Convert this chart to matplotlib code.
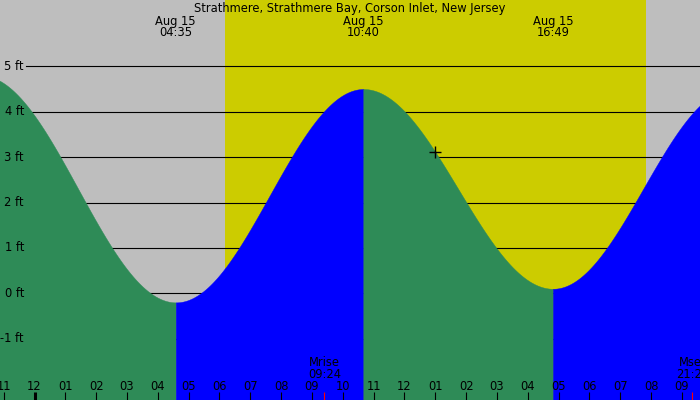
import numpy as np
import matplotlib
matplotlib.use("Agg")
import matplotlib.pyplot as plt
import matplotlib.transforms as mtransforms

# ---- data ----
title = "Strathmere, Strathmere Bay, Corson Inlet, New Jersey"
# tide extremes: hours relative to Aug 15 00:00, heights in ft
tide_times = [-1.75, 4 + 35/60, 10 + 40/60, 16 + 49/60, 22 + 40/60]
tide_heights = [4.8, -0.2, 4.5, 0.1, 4.5]
event_dates = ["Aug 15", "Aug 15", "Aug 15"]
event_labels = ["04:35", "10:40", "16:49"]
event_times = [4 + 35/60, 10 + 40/60, 16 + 49/60]
sunrise = 6 + 10/60
sunset = 19 + 50/60
moon_times = [9 + 24/60, 21 + 20/60]
moon_names = ["Mrise", "Mset"]
moon_labels = ["09:24", "21:20"]
hour_ticks = list(range(-1, 22))
hour_labels = ["11", "12", "01", "02", "03", "04", "05", "06", "07", "08", "09", "10",
               "11", "12", "01", "02", "03", "04", "05", "06", "07", "08", "09"]
ft_levels = [-1, 0, 1, 2, 3, 4, 5]
ft_labels = ["-1 ft", "0 ft", "1 ft", "2 ft", "3 ft", "4 ft", "5 ft"]
now_time = 13.0

# ---- colours ----
GRAY = "#BEBEBE"
YELLOW = "#CCCC00"
GREEN = "#2E8B57"
BLUE = "#0000FF"

W, H = 700, 400
PX_H = 30.83
X0 = 34.5
Y0 = 293.3
PX_FT = 45.4
FS = 8.3

fig = plt.figure(figsize=(7, 4), dpi=100)
ax = fig.add_axes([0, 0, 1, 1])
ax.set_axis_off()
xl = (-X0 / PX_H, (W - X0) / PX_H)
yl = ((Y0 - H) / PX_FT, Y0 / PX_FT)
ax.set_xlim(*xl)
ax.set_ylim(*yl)

bt_dx = mtransforms.blended_transform_factory(ax.transData, ax.transAxes)
bt_ay = mtransforms.blended_transform_factory(ax.transAxes, ax.transData)

def ypx(p):
    return 1 - p / H

# backgrounds
ax.axvspan(xl[0], xl[1], color=GRAY, zorder=0, lw=0)
ax.axvspan(sunrise, sunset, color=YELLOW, zorder=0.5, lw=0)

# grid lines
for lev, lab in zip(ft_levels, ft_labels):
    ax.axhline(lev, xmin=26 / W, xmax=1, color="black", lw=0.8, zorder=1)
    ax.text(24 / W, lev, lab, transform=bt_ay, ha="right", va="center",
            fontsize=FS, color="black", zorder=5)

def tide_at(t):
    for i in range(len(tide_times) - 1):
        t1, t2 = tide_times[i], tide_times[i + 1]
        if t1 <= t <= t2:
            h1, h2 = tide_heights[i], tide_heights[i + 1]
            s = (t - t1) / (t2 - t1)
            return h2 + (h1 - h2) * (1 + np.cos(np.pi * s)) / 2
    return np.nan

# tide fills
for i in range(len(tide_times) - 1):
    t1, t2 = tide_times[i], tide_times[i + 1]
    ts = np.linspace(t1, t2, 400)
    hs = np.array([tide_at(t) for t in ts])
    col = GREEN if tide_heights[i + 1] < tide_heights[i] else BLUE
    ax.fill_between(ts, yl[0] - 1, hs, facecolor=col, edgecolor=col, lw=0.3, zorder=2)

# current marker
ax.plot([now_time], [tide_at(now_time)], marker="+", color="black",
        markersize=8, mew=1.0, zorder=6)

# title and event labels
ax.text(0.5, ypx(12), title, transform=ax.transAxes, ha="center", va="baseline",
        fontsize=FS, zorder=6)
for t, d, lab in zip(event_times, event_dates, event_labels):
    ax.text(t, ypx(25), d, transform=bt_dx, ha="center", va="baseline", fontsize=FS, zorder=6)
    ax.text(t, ypx(36.5), lab, transform=bt_dx, ha="center", va="baseline", fontsize=FS, zorder=6)

# hour ticks
for hr, lab in zip(hour_ticks, hour_labels):
    lw = 2.2 if hr % 24 == 0 else 0.8
    ax.plot([hr, hr], [0, 8 / H], transform=bt_dx, color="black", lw=lw,
            solid_capstyle="butt", zorder=6)
    ax.text(hr, ypx(390), lab, transform=bt_dx, ha="center", va="baseline",
            fontsize=FS, zorder=6)

# moon events
for t, n, lab in zip(moon_times, moon_names, moon_labels):
    ax.plot([t, t], [0, 8 / H], transform=bt_dx, color="red", lw=0.8,
            solid_capstyle="butt", zorder=6)
    ax.text(t, ypx(365.5), n, transform=bt_dx, ha="center", va="baseline", fontsize=FS, zorder=6)
    ax.text(t, ypx(377.5), lab, transform=bt_dx, ha="center", va="baseline", fontsize=FS, zorder=6)

fig.savefig("out.png", dpi=100)
